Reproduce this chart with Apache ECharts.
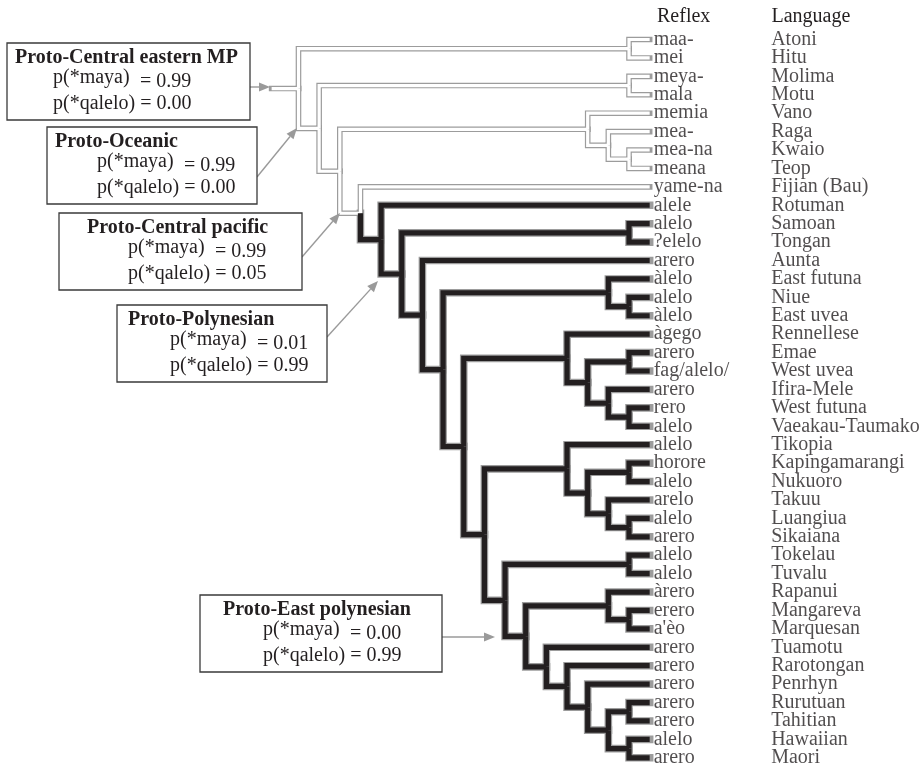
<!DOCTYPE html>
<html><head><meta charset="utf-8">
<script src="https://cdn.jsdelivr.net/npm/echarts@6/dist/echarts.min.js"></script>
<style>html,body{margin:0;padding:0;background:#fff}#c{width:920px;height:767px}</style>
</head><body><div id="c"></div>
<script>
// ---------- data ----------
const reflexes = ['maa-','mei','meya-','mala','memia','mea-','mea-na','meana','yame-na','alele','alelo','?elelo','arero','àlelo','alelo','àlelo','àgego','arero','fag/alelo/','arero','rero','alelo','alelo','horore','alelo','arelo','alelo','arero','alelo','alelo','àrero','erero',"a'èo",'arero','arero','arero','arero','arero','alelo','arero'];
const languages = ['Atoni','Hitu','Molima','Motu','Vano','Raga','Kwaio','Teop','Fijian (Bau)','Rotuman','Samoan','Tongan','Aunta','East futuna','Niue','East uvea','Rennellese','Emae','West uvea','Ifira-Mele','West futuna','Vaeakau-Taumako','Tikopia','Kapingamarangi','Nukuoro','Takuu','Luangiua','Sikaiana','Tokelau','Tuvalu','Rapanui','Mangareva','Marquesan','Tuamotu','Rarotongan','Penrhyn','Rurutuan','Tahitian','Hawaiian','Maori'];
const headers = ['Reflex', 'Language'];
// topology (leaf indices), Polynesian clade reconstructed as *qalelo
const polynesian = [9, [[10,11], [12, [[13,[14,15]], [[16,[[17,18],[19,[20,21]]]], [[22,[[23,24],[25,[26,27]]]], [[28,29], [[30,[31,32]], [33,[34,[35,[[36,37],[38,39]]]]]]]]]]]]];
const tree = [[0,1], [[2,3], [[4,[5,[6,7]]], [8, polynesian]]]];
// ancestral state annotations
const nodeNames = ['Proto-Central eastern MP','Proto-Oceanic','Proto-Central pacific','Proto-Polynesian','Proto-East polynesian'];
const pMaya = [0.99, 0.99, 0.99, 0.01, 0.00];
const pQalelo = [0.00, 0.00, 0.05, 0.99, 0.99];

// ---------- layout of the cladogram ----------
const whiteBr = [], blackBr = [];
function lay(node, black) {
  if (typeof node === 'number') return {h: 0, y: node};
  const kids = node.map(ch => ({ch, r: lay(ch, black || ch === polynesian), b: black || ch === polynesian}));
  const h = Math.max(...kids.map(k => k.r.h)) + 1;
  const y = (kids[0].r.y + kids[kids.length - 1].r.y) / 2;
  kids.forEach(k => {
    const c = [[h, y], [h, k.r.y], [k.r.h, k.r.y]];
    (k.b ? blackBr : whiteBr).push(c);
  });
  return {h, y};
}
const root = lay(tree, false);
whiteBr.push([[root.h + 1.3, root.y], [root.h, root.y]]);

const ink = '#231f20', grey = '#9c9c9c';
const FF = "Liberation Serif";
const FS = 20;
const leafPts = languages.map((l, i) => [0, i]);

function linesSeries(data, color, width, cap, z) {
  return {type: 'lines', coordinateSystem: 'cartesian2d', polyline: true, silent: true, z,
    data: data.map(c => ({coords: c})),
    lineStyle: {color, width, opacity: 1, cap, join: 'miter'}};
}

// ---------- annotation layout ----------
const boxLayout = [
  {x: 7, y: 43, w: 243, tx: 15, px: 53},
  {x: 47, y: 127, w: 210, tx: 55, px: 97},
  {x: 59, y: 213, w: 243, tx: 87, px: 128},
  {x: 117, y: 305, w: 210, tx: 128, px: 170},
  {x: 200, y: 595, w: 242, tx: 223, px: 263}
];
const arrowLayout = [
  [250, 87, 270, 87], [257, 177, 297, 128], [302, 257, 340, 213], [327, 337, 378, 281], [442, 637, 495, 637]
];
function txt(text, x, y, bold, align) {
  return {type: 'text', z: 20, style: {text, x, y, fill: ink, fontFamily: FF, fontSize: FS, fontWeight: bold ? 'bold' : 'normal',
    align: align || 'left', verticalAlign: 'middle', textAlign: align || 'left', textVerticalAlign: 'middle'}};
}
const graphics = [];
boxLayout.forEach((b, i) => {
  graphics.push({type: 'rect', z: 15, shape: {x: b.x, y: b.y, width: b.w, height: 77}, style: {fill: '#fff', stroke: '#3a3a3a', lineWidth: 1.3}});
  graphics.push(txt(nodeNames[i], b.tx, b.y + 15, true));
  graphics.push(txt('p(*maya)', b.px, b.y + 35, false));
  graphics.push(txt('= ' + pMaya[i].toFixed(2), b.px + 87, b.y + 38.5, false));
  graphics.push(txt('p(*qalelo) = ' + pQalelo[i].toFixed(2), b.px, b.y + 61, false));
});
arrowLayout.forEach(a => {
  const [x1, y1, x2, y2] = a;
  const dx = x2 - x1, dy = y2 - y1, L = Math.hypot(dx, dy), ux = dx / L, uy = dy / L;
  const hl = 11, hw = 4.5;
  const bx = x2 - ux * hl, by = y2 - uy * hl;
  graphics.push({type: 'line', z: 14, shape: {x1, y1, x2: bx, y2: by}, style: {stroke: '#9a9a9a', lineWidth: 1.4}});
  graphics.push({type: 'polygon', z: 14, shape: {points: [[x2, y2], [bx - uy * hw, by + ux * hw], [bx + uy * hw, by - ux * hw]]}, style: {fill: '#9a9a9a'}});
});
graphics.push(txt(headers[0], 657, 17, false));
graphics.push(txt(headers[1], 771.5, 17, false));

const chart = echarts.init(document.getElementById('c'), null, {renderer: 'canvas'});
chart.setOption({
  animation: false,
  backgroundColor: '#fff',
  grid: {left: 267.5, right: 260, top: 30.3, bottom: 0, containLabel: false},
  xAxis: {type: 'value', min: -0.5, max: 18.5, inverse: true, show: false},
  yAxis: {type: 'value', min: -0.5, max: 39.5, inverse: true, show: false},
  series: [
    linesSeries(whiteBr, grey, 5.6, 'square', 1),
    linesSeries(blackBr, grey, 7.6, 'square', 2),
    linesSeries(whiteBr, '#ffffff', 3.2, 'butt', 3),
    linesSeries(blackBr, ink, 5.2, 'butt', 4),
    {type: 'scatter', data: leafPts, symbolSize: 0, silent: true, z: 5,
      label: {show: true, position: 'right', distance: 4, color: ink, fontFamily: FF, fontSize: FS,
        formatter: p => reflexes[p.dataIndex]}},
    {type: 'scatter', data: leafPts, symbolSize: 0, silent: true, z: 5,
      label: {show: true, position: 'right', distance: 4, offset: [117.5, 0], color: ink, fontFamily: FF, fontSize: FS,
        formatter: p => languages[p.dataIndex]}}
  ],
  graphic: graphics
});
</script></body></html>
